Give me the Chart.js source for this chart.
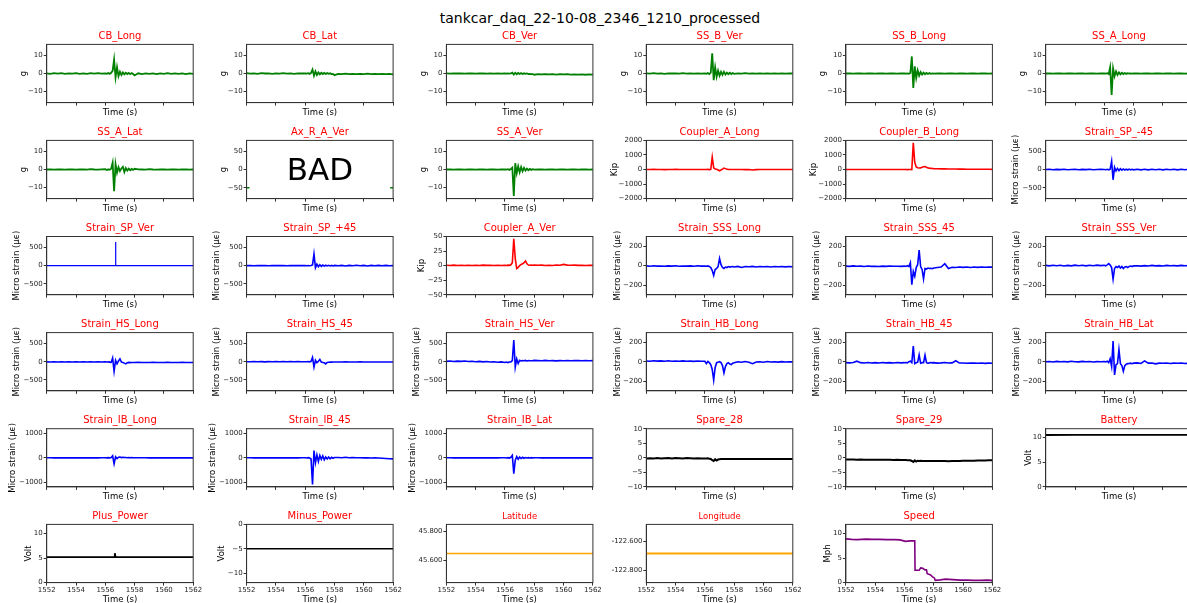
<!DOCTYPE html>
<html>
<head>
<meta charset="utf-8">
<title>tankcar_daq_22-10-08_2346_1210_processed</title>
<script src="https://cdn.jsdelivr.net/npm/chart.js@4.4.1/dist/chart.umd.min.js"></script>
<style>
  html, body { margin: 0; padding: 0; background: #fff; }
  body { position: relative; width: 1187px; height: 603px; overflow: hidden; }
  #suptitle { position: absolute; left: 0; top: 10px; width: 1200px; text-align: center;
              font-family: "DejaVu Sans"; font-size: 14px; line-height: 16px; color: #000; }
  canvas { position: absolute; }
</style>
</head>
<body>
<div id="suptitle">tankcar_daq_22-10-08_2346_1210_processed</div>
<script>
// ---- time bases (s) ----
const T = [1552,1552.25,1552.5,1552.75,1553,1553.25,1553.5,1553.75,1554,1554.25,1554.5,1554.75,1555,1555.25,1555.5,1555.75,
  1556,1556.1,1556.2,1556.3,1556.4,1556.5,1556.6,1556.7,1556.8,1556.9,1557,1557.1,1557.2,1557.3,1557.4,1557.5,1557.6,1557.7,1557.8,1557.9,1558,
  1558.25,1558.5,1558.75,1559,1559.25,1559.5,1559.75,1560,1560.25,1560.5,1560.75,1561,1561.25,1561.5,1561.75,1562];
const T_FLAT = [1552, 1554, 1556, 1558, 1560, 1562];
const T_AX = [1552, 1552.2, 1557, 1561.8, 1562];
const T_SPV = [1552, 1556.68, 1556.7, 1556.72, 1562];
const T_PLUS = [1552, 1556.6, 1556.65, 1556.7, 1562];
const T_SPEED = [1552,1552.4,1552.75,1553.1,1553.4,1553.8,1554.3,1554.8,1555.3,1555.7,1556.05,1556.4,1556.7,1556.72,1557.0,1557.1,1557.25,1557.4,1557.5,1557.55,1557.75,1557.9,1558.05,1558.1,1558.45,1558.8,1559.3,1559.8,1560.3,1560.7,1561.2,1561.6,1561.95,1562];

// ---- accelerometers (g) ----
const CB_LONG = [0.1,-0.2,0.2,-0.1,0.2,-0.2,0.1,-0.1,0.2,-0.2,0.1,-0.2,0.2,-0.1,0.2,-0.1,
  0.1,-0.2,0.3,-0.2,0.4,1.5,7.8,-2.2,3.5,-1.5,1.0,-0.8,0.6,-0.5,0.4,-0.3,0.3,-0.4,0.2,-0.3,-1.1,
  0.1,-0.3,0.1,-0.2,0.1,-0.3,0.1,-0.2,0.2,-0.2,0.1,-0.2,0.1,-0.3,0.1,-0.2];
const CB_LAT = [0.2,-0.1,0.1,-0.2,0.2,0,0.1,-0.2,0.1,-0.1,0.2,-0.1,0.1,-0.2,0.1,0,
  0.1,-0.1,0.2,-0.2,0.3,2.2,-1.2,1.2,-0.8,0.6,-0.5,0.4,-0.3,0.3,-0.3,0.2,-0.2,0.1,-0.3,-0.2,-0.9,
  -0.2,-0.4,-0.1,-0.3,-0.2,-0.4,-0.2,-0.3,-0.1,-0.4,-0.2,-0.3,-0.2,-0.4,-0.2,-0.5];
const CB_VER = [0.1,-0.1,0.1,0,0.1,-0.1,0,0.1,-0.1,0,0.1,-0.1,0,-0.1,0,-0.1,
  0,-0.1,0.1,-0.1,0.1,0.5,-0.6,0.4,-0.4,0.3,-0.3,0.2,-0.3,0.1,-0.2,0,-0.3,-0.2,-0.3,-0.4,-0.7,
  -0.3,-0.5,-0.3,-0.5,-0.4,-0.6,-0.4,-0.5,-0.4,-0.6,-0.5,-0.6,-0.5,-0.7,-0.5,-0.6];
const SS_B_VER = [0.1,-0.1,0.2,-0.1,0.1,-0.2,0.1,0,0.1,-0.1,0.2,-0.1,0.1,-0.1,0.1,-0.1,
  0.1,-0.2,0.2,-0.3,0.5,11.2,-3.7,3.5,-1.8,1.6,-1.2,0.9,-0.8,1.0,-0.6,0.5,-0.4,0.4,-0.3,0.3,-0.2,
  0.1,-0.1,0.2,-0.1,0.1,-0.1,0.1,-0.1,0.1,-0.1,0.1,-0.1,0.1,-0.1,0.1,0];
const SS_B_LONG = [0,0.1,-0.1,0.1,0,-0.1,0.1,0,-0.1,0.1,0,-0.1,0.1,0,-0.1,0.1,
  0,-0.1,0.1,-0.2,0.3,9.5,-8.1,4.0,-2.5,1.8,-1.2,0.8,-0.6,0.5,-0.4,0.3,-0.3,0.2,-0.2,0.1,-0.1,
  0.1,0,-0.1,0.1,0,-0.1,0.1,0,-0.1,0.1,0,-0.1,0.1,0,-0.1,0];
const SS_A_LONG = [0,0.1,-0.1,0,0.1,-0.1,0,0.1,-0.1,0,0.1,-0.1,0,0.1,-0.1,0,
  0.1,-0.1,0.2,-0.3,3.5,-12.0,2.8,-1.5,1.2,-0.8,0.6,-0.5,0.4,-0.3,0.3,-0.2,0.2,-0.1,0.1,-0.1,0,
  0.1,-0.1,0,0.1,-0.1,0,0.1,-0.1,0,0.1,-0.1,0,0.1,-0.1,0,0];
const SS_A_LAT = [0,0.1,-0.1,0.1,0,-0.1,0.1,0,-0.1,0.1,0,-0.1,0.2,0,-0.1,0.1,
  0.2,-0.3,0.1,-0.2,0.4,3.8,-12.1,3.0,-1.8,1.3,-0.9,0.6,1.5,-1.4,0.8,-0.6,0.5,-0.4,0.3,-0.2,0.4,
  0.1,0,-0.1,0.2,0,-0.1,0.1,0,-0.1,0.1,0,-0.1,0.1,0,-0.1,0];
const AX_R_A_VER = [-50, -50, null, -50, -50];
const SS_A_VER = [0,0.1,-0.1,0,0.1,-0.1,0.1,0,-0.1,0.1,0,-0.1,0.1,0,-0.1,0,
  0.1,-0.1,0.2,-0.2,0.3,1.0,-14.7,3.5,-2.0,1.8,-1.5,1.4,-1.0,0.9,-0.6,0.5,-0.4,0.3,-0.2,0.2,-0.1,
  0.1,0,-0.1,0.1,0,-0.1,0.1,0,-0.1,0.1,0,-0.1,0.1,0,-0.1,0];

// ---- couplers (Kip) ----
const COUPLER_A_LONG = [5,-5,8,-3,5,-6,4,-4,6,-5,3,-4,5,-3,4,-5,
  3,-4,5,-6,10,850,120,40,10,-40,-90,-40,30,100,60,20,10,5,0,5,0,
  -5,0,-10,-5,-30,-10,-5,0,-5,0,-5,0,-5,0,-5,0];
const COUPLER_B_LONG = [0,5,-5,3,0,-3,5,0,-5,3,0,-3,5,0,-5,0,
  0,5,-5,5,0,-10,1835,500,180,120,100,110,150,190,200,150,110,90,80,70,60,
  50,45,40,35,30,30,25,25,20,20,20,18,18,15,15,12];
const COUPLER_A_VER = [0.5,0.2,0.8,0.3,0.6,0.1,0.7,0.3,0.5,0.2,0.8,0.4,0.6,0.2,0.7,0.3,
  0.6,0.2,0.8,0.5,1.5,5,46,12,-5,-3,0,2,3,5,8,3,1,0.5,1,0.5,1,
  0.5,0.8,0.3,0.6,0.3,1.0,0.5,2.0,0.8,0.5,0.8,0.4,0.7,0.3,0.6,0.4];

// ---- strain gauges (micro strain) ----
const STRAIN_SP_M45 = [0,5,-5,3,-3,5,-5,0,5,-5,3,-3,5,-5,0,5,
  0,-5,5,-10,10,228,-283,60,-40,30,-30,20,-20,15,-15,10,-15,10,-10,5,-10,
  5,-10,5,-10,5,-5,5,-10,5,-5,5,-10,5,-5,5,-5];
const STRAIN_SP_VER = [0, 0, 650, 0, 0];
const STRAIN_SP_P45 = [0,3,-3,2,-2,3,-3,2,0,-2,3,-3,2,-2,3,0,
  2,-3,3,-5,5,20,320,-60,40,-30,25,-20,15,-15,10,-10,8,-8,5,-10,5,
  -5,5,-10,5,-5,10,-5,5,-10,5,-5,5,-5,5,-5,0];
const STRAIN_SSS_LONG = [-3,-6,-2,-5,-4,-7,-3,-5,-2,-6,-4,-5,-3,-6,-2,-5,
  -4,-6,-3,-8,-20,-50,-101,-40,-30,-10,74,10,-20,-30,-15,-20,-10,-15,-12,-10,-14,
  -8,-20,-10,-12,-8,-14,-10,-12,-10,-14,-10,-12,-9,-13,-10,-12];
const STRAIN_SSS_45 = [-5,-8,-3,-7,-5,-9,-4,-8,-6,-9,-5,-8,-4,-7,-6,-8,
  -5,-9,0,-10,30,-197,-60,-110,-20,10,160,-10,-40,-138,-30,-35,-25,-30,-28,-32,-25,
  -20,-15,20,-30,-18,-20,-15,-18,-14,-19,-15,-18,-14,-17,-15,-16];
const STRAIN_SSS_VER = [2,-3,4,-2,3,-4,2,-3,5,-2,3,-3,4,-2,5,0,
  3,-2,8,20,5,-20,-140,-30,-10,-20,-5,-25,-10,-30,-15,-10,-20,-8,-5,-10,-3,
  -2,-5,0,-4,2,-3,0,-4,2,-2,0,-3,2,-2,0,-2];
const STRAIN_HS_LONG = [-5,-10,-3,-8,-6,-10,-4,-9,-5,-10,-6,-8,-4,-9,-5,-8,
  -6,-10,-5,-12,-20,100,-264,40,-60,20,80,-10,-20,-40,-60,-30,-20,-25,-20,-22,-20,
  -18,-22,-20,-24,-18,-22,-20,-23,-19,-22,-20,-23,-19,-22,-20,-22];
const STRAIN_HS_45 = [0,-3,3,-2,2,-4,3,-2,2,-3,4,-2,3,-3,2,-2,
  0,-3,5,-5,10,120,-145,40,-30,10,60,-10,-20,-30,-60,-20,-15,-10,-12,-8,-10,
  -8,-10,-6,-9,-7,-10,-6,-9,-7,-10,-8,-9,-7,-10,-8,-9];
const STRAIN_HS_VER = [10,20,5,15,8,18,5,12,0,10,-5,5,-10,0,-15,-5,
  -20,-10,-25,-10,-5,30,598,-150,80,-50,40,20,30,25,35,20,30,25,28,30,35,
  30,25,35,28,30,22,30,25,32,28,35,30,25,32,28,30];
const STRAIN_HB_LONG = [8,5,10,6,8,4,9,5,7,4,8,5,6,3,7,4,
  5,-20,2,-10,-30,-80,-190,-60,-10,-5,0,-10,-40,-115,-50,-20,-10,-25,-30,-15,-10,
  0,-5,2,-5,-20,-3,0,-5,2,-3,0,-4,1,-3,0,-2];
const STRAIN_HB_45 = [-10,-12,-8,5,-10,-14,-9,-13,-10,-14,-9,-12,-10,-13,-8,-12,
  -10,-8,-12,0,5,-10,161,-20,-10,-5,70,-15,-10,-10,67,-10,-15,-12,-8,-12,-10,
  -15,-12,-8,-14,-12,10,-14,-13,-16,-14,-15,-16,-14,-17,-15,-16];
const STRAIN_HB_LAT = [0,2,-3,3,-1,2,-2,4,0,-2,3,-1,2,-3,1,0,
  2,-2,5,-10,30,-50,214,-137,-30,-20,126,-20,-40,-98,-40,-25,-20,-18,-15,-20,-15,
  -12,-18,8,-15,-14,-22,-15,-16,-14,-18,-15,-16,-14,-18,-15,-17];
const STRAIN_IB_LONG = [0,5,-5,3,-3,5,-5,2,-2,5,-5,3,-3,5,-5,0,
  3,-3,5,-10,10,80,-250,40,-30,20,30,10,20,10,15,5,10,5,8,5,5,
  5,0,5,-3,3,-5,2,-3,3,-5,2,-3,5,-5,3,-5];
const STRAIN_IB_45 = [0,5,-5,3,-3,5,-5,3,-3,5,-5,3,-3,5,-5,0,
  3,-5,5,-10,-50,-1100,300,-200,120,-150,100,-60,80,-80,30,-50,30,-40,20,-20,10,
  10,0,20,5,10,0,5,-5,0,-10,-5,-10,-20,-30,-40,-45];
const STRAIN_IB_LAT = [0,5,-3,3,-5,5,-3,2,-5,5,-3,3,-5,5,-3,0,
  3,-5,5,-10,20,100,-650,-100,50,-60,30,-30,20,-20,10,-10,5,-10,5,-5,0,
  5,-5,0,-5,3,-5,0,-5,3,-5,0,-5,3,-5,0,-5];

// ---- spares, power, GPS, speed ----
const SPARE_28 = [-0.2,-0.15,-0.2,-0.1,-0.2,-0.15,-0.1,-0.2,-0.1,-0.15,-0.2,-0.1,-0.15,-0.2,-0.15,-0.2,
  -0.2,-0.25,-0.2,-0.3,-0.4,-0.8,-1.1,-0.5,-0.9,-0.6,-0.5,-0.45,-0.4,-0.45,-0.4,-0.4,-0.45,-0.4,-0.4,-0.45,-0.4,
  -0.4,-0.42,-0.4,-0.42,-0.4,-0.42,-0.4,-0.42,-0.4,-0.42,-0.4,-0.4,-0.42,-0.4,-0.42,-0.4];
const SPARE_29 = [-0.6,-0.62,-0.6,-0.65,-0.62,-0.65,-0.63,-0.66,-0.65,-0.68,-0.66,-0.7,-0.68,-0.72,-0.7,-0.74,
  -0.75,-0.78,-0.8,-0.82,-0.85,-1.1,-1.4,-0.9,-1.3,-1.0,-1.1,-1.05,-1.1,-1.08,-1.1,-1.12,-1.1,-1.12,-1.1,-1.12,-1.1,
  -1.12,-1.1,-1.12,-1.15,-1.12,-1.1,-1.08,-1.05,-1.02,-1.0,-0.98,-0.95,-0.92,-0.9,-0.88,-0.85];
const BATTERY = [10.48, 10.5, 10.5, 10.52, 10.5, 10.5];
const PLUS_POWER = [5.2, 5.2, 6.0, 5.2, 5.2];
const MINUS_POWER = [-4.95, -4.95, -4.95, -4.95, -4.95, -4.95];
const LATITUDE = [45.647, 45.647, 45.647, 45.647, 45.647, 45.647];
const LONGITUDE = [-122.684, -122.684, -122.684, -122.684, -122.684, -122.684];
const SPEED = [8.9,8.8,8.75,8.8,8.85,8.8,8.8,8.75,8.75,8.7,8.4,8.5,8.5,2.5,2.5,3.0,2.9,2.6,2.6,1.8,1.6,1.2,0.9,0.45,0.55,0.7,0.6,0.5,0.5,0.45,0.45,0.5,0.45,0.2];

// ---- tick values ----
const X_TICKS = [1552, 1554, 1556, 1558, 1560, 1562];
const G_TICKS = [-10, 0, 10];
const AX_TICKS = [-50, 0, 50];
const KIP_TICKS = [-2000, -1000, 0, 1000, 2000];
const KIP50_TICKS = [-50, -25, 0, 25, 50];
const SP_TICKS = [-500, 0, 500];
const S300_TICKS = [-200, 0, 200];
const S1200_TICKS = [-1000, 0, 1000];
const SPARE_TICKS = [-10, -5, 0, 5, 10];
const VOLT_TICKS = [0, 5, 10];
const MINUS_TICKS = [-10, -5, 0];
const LAT_TICKS = [45.6, 45.8];
const LON_TICKS = [-122.8, -122.6];
const SPEED_TICKS = [0, 5, 10];

// ---- styling ----
const FONT = 'DejaVu Sans';
const GREEN = '#008000', RED = '#ff0000', BLUE = '#0000ff', BLACK = '#000000', ORANGE = '#ffa500', PURPLE = '#800080';
const STRAIN = 'Micro strain (\u03bc\u03f5)';

function fmtInt(v) { return (v < 0 ? '\u2212' : '') + Math.abs(v); }
function fmt3(v) { return Number(v).toFixed(3); }

const PANELS = [
  {name:'CB_Long', x:T, y:CB_LONG, color:GREEN, unit:'g', range:[-16.2,16.2], ticks:G_TICKS, dx:23, lw:1.8},
  {name:'CB_Lat', x:T, y:CB_LAT, color:GREEN, unit:'g', range:[-16.2,16.2], ticks:G_TICKS, dx:23, lw:1.8},
  {name:'CB_Ver', x:T, y:CB_VER, color:GREEN, unit:'g', range:[-16.2,16.2], ticks:G_TICKS, dx:23, lw:1.8},
  {name:'SS_B_Ver', x:T, y:SS_B_VER, color:GREEN, unit:'g', range:[-16.2,16.2], ticks:G_TICKS, dx:23, lw:1.8},
  {name:'SS_B_Long', x:T, y:SS_B_LONG, color:GREEN, unit:'g', range:[-16.2,16.2], ticks:G_TICKS, dx:23, lw:1.8},
  {name:'SS_A_Long', x:T, y:SS_A_LONG, color:GREEN, unit:'g', range:[-16.2,16.2], ticks:G_TICKS, dx:23, lw:1.8},

  {name:'SS_A_Lat', x:T, y:SS_A_LAT, color:GREEN, unit:'g', range:[-16.2,16.2], ticks:G_TICKS, dx:23, lw:1.8},
  {name:'Ax_R_A_Ver', x:T_AX, y:AX_R_A_VER, color:GREEN, unit:'g', range:[-80,80], ticks:AX_TICKS, dx:23, stamp:'BAD'},
  {name:'SS_A_Ver', x:T, y:SS_A_VER, color:GREEN, unit:'g', range:[-16.2,16.2], ticks:G_TICKS, dx:23, lw:1.8},
  {name:'Coupler_A_Long', x:T, y:COUPLER_A_LONG, color:RED, unit:'Kip', range:[-2000,2000], ticks:KIP_TICKS, dx:32},
  {name:'Coupler_B_Long', x:T, y:COUPLER_B_LONG, color:RED, unit:'Kip', range:[-2000,2000], ticks:KIP_TICKS, dx:32},
  {name:'Strain_SP_-45', x:T, y:STRAIN_SP_M45, color:BLUE, unit:STRAIN, range:[-800,800], ticks:SP_TICKS, dx:30},

  {name:'Strain_SP_Ver', x:T_SPV, y:STRAIN_SP_VER, color:BLUE, unit:STRAIN, range:[-800,800], ticks:SP_TICKS, dx:30, lw:1.2},
  {name:'Strain_SP_+45', x:T, y:STRAIN_SP_P45, color:BLUE, unit:STRAIN, range:[-800,800], ticks:SP_TICKS, dx:30},
  {name:'Coupler_A_Ver', x:T, y:COUPLER_A_VER, color:RED, unit:'Kip', range:[-50,50], ticks:KIP50_TICKS, dx:25},
  {name:'Strain_SSS_Long', x:T, y:STRAIN_SSS_LONG, color:BLUE, unit:STRAIN, range:[-300,300], ticks:S300_TICKS, dx:29},
  {name:'Strain_SSS_45', x:T, y:STRAIN_SSS_45, color:BLUE, unit:STRAIN, range:[-300,300], ticks:S300_TICKS, dx:29},
  {name:'Strain_SSS_Ver', x:T, y:STRAIN_SSS_VER, color:BLUE, unit:STRAIN, range:[-300,300], ticks:S300_TICKS, dx:29},

  {name:'Strain_HS_Long', x:T, y:STRAIN_HS_LONG, color:BLUE, unit:STRAIN, range:[-800,800], ticks:SP_TICKS, dx:30},
  {name:'Strain_HS_45', x:T, y:STRAIN_HS_45, color:BLUE, unit:STRAIN, range:[-800,800], ticks:SP_TICKS, dx:30},
  {name:'Strain_HS_Ver', x:T, y:STRAIN_HS_VER, color:BLUE, unit:STRAIN, range:[-800,800], ticks:SP_TICKS, dx:30},
  {name:'Strain_HB_Long', x:T, y:STRAIN_HB_LONG, color:BLUE, unit:STRAIN, range:[-300,300], ticks:S300_TICKS, dx:29},
  {name:'Strain_HB_45', x:T, y:STRAIN_HB_45, color:BLUE, unit:STRAIN, range:[-300,300], ticks:S300_TICKS, dx:29},
  {name:'Strain_HB_Lat', x:T, y:STRAIN_HB_LAT, color:BLUE, unit:STRAIN, range:[-300,300], ticks:S300_TICKS, dx:29},

  {name:'Strain_IB_Long', x:T, y:STRAIN_IB_LONG, color:BLUE, unit:STRAIN, range:[-1200,1200], ticks:S1200_TICKS, dx:34},
  {name:'Strain_IB_45', x:T, y:STRAIN_IB_45, color:BLUE, unit:STRAIN, range:[-1200,1200], ticks:S1200_TICKS, dx:34},
  {name:'Strain_IB_Lat', x:T, y:STRAIN_IB_LAT, color:BLUE, unit:STRAIN, range:[-1200,1200], ticks:S1200_TICKS, dx:34},
  {name:'Spare_28', x:T, y:SPARE_28, color:BLACK, unit:null, range:[-10,10], ticks:SPARE_TICKS, lw:2},
  {name:'Spare_29', x:T, y:SPARE_29, color:BLACK, unit:null, range:[-10,10], ticks:SPARE_TICKS, lw:2},
  {name:'Battery', x:T_FLAT, y:BATTERY, color:BLACK, unit:'Volt', range:[0,11.75], ticks:VOLT_TICKS, dx:17, lw:1.8},

  {name:'Plus_Power', x:T_PLUS, y:PLUS_POWER, color:BLACK, unit:'Volt', range:[0,11.85], ticks:VOLT_TICKS, dx:18, lw:1.8},
  {name:'Minus_Power', x:T_FLAT, y:MINUS_POWER, color:BLACK, unit:'Volt', range:[-11.85,0], ticks:MINUS_TICKS, dx:24.4, lw:1.6},
  {name:'Latitude', x:T_FLAT, y:LATITUDE, color:ORANGE, unit:null, range:[45.447,45.847], ticks:LAT_TICKS, fmt:fmt3, small:true},
  {name:'Longitude', x:T_FLAT, y:LONGITUDE, color:ORANGE, unit:null, range:[-122.884,-122.484], ticks:LON_TICKS, fmt:fmt3, small:true, lw:2},
  {name:'Speed', x:T_SPEED, y:SPEED, color:PURPLE, unit:'Mph', range:[0,11.85], ticks:SPEED_TICKS, dx:18}
];

// plot-area grid (left edges, top edges, size) in page pixels
const GEO = { cols:[46.7, 246.6, 446.4, 646.3, 845.9, 1045.7], rows:[44.4, 140.4, 236.5, 332.6, 428.7, 524.4], w:146.5, h:58.2 };

// full box around the plot area, drawn above the traces
const framePlugin = {
  id: 'frame',
  afterDatasetsDraw(chart) {
    const a = chart.chartArea, ctx = chart.ctx;
    ctx.save();
    ctx.strokeStyle = '#333';
    ctx.lineWidth = 1;
    ctx.strokeRect(a.left, a.top, a.right - a.left, a.bottom - a.top);
    ctx.restore();
  }
};

// large text note placed in the middle of a plot
const stampPlugin = {
  id: 'stamp',
  afterDatasetsDraw(chart, args, opts) {
    if (!opts || !opts.text) return;
    const a = chart.chartArea, ctx = chart.ctx;
    ctx.save();
    ctx.font = '31px "DejaVu Sans"';
    ctx.fillStyle = '#000';
    ctx.textAlign = 'center';
    ctx.textBaseline = 'middle';
    ctx.fillText(opts.text, (a.left + a.right) / 2, (a.top + a.bottom) / 2 + 2.5);
    ctx.restore();
  }
};

function buildPanel(p, idx) {
  const row = Math.floor(idx / 6), col = idx % 6;
  const L = GEO.cols[col], TOP = GEO.rows[row];
  const cl = Math.floor(L) - 52, ct = Math.floor(TOP) - 22;
  const cw = Math.ceil(L + GEO.w + 18) - cl;
  const ch = Math.ceil(TOP + GEO.h + 30) - ct;
  const yW = L - cl;
  const titleH = 17, xH = 24;
  const padTop = TOP - ct - titleH;
  const padBottom = ch - (TOP - ct) - GEO.h - xH;
  const padRight = cw - yW - GEO.w;
  const bottomRow = row === 5;
  const small = !!p.small;

  const canvas = document.createElement('canvas');
  canvas.width = cw; canvas.height = ch;
  canvas.style.left = cl + 'px'; canvas.style.top = ct + 'px';
  canvas.style.width = cw + 'px'; canvas.style.height = ch + 'px';
  document.body.appendChild(canvas);

  const pts = p.x.map((t, i) => ({ x: t, y: p.y[i] }));
  const axisLine = { display: true, drawOnChartArea: false, drawTicks: true, tickLength: 3, color: '#333', lineWidth: 1 };

  new Chart(canvas, {
    type: 'line',
    data: { datasets: [{ data: pts, borderColor: p.color, borderWidth: p.lw || 1.6, pointRadius: 0, tension: 0, spanGaps: false, fill: false }] },
    options: {
      responsive: false, animation: false, events: [],
      layout: { autoPadding: false, padding: { left: 0, right: padRight, top: padTop, bottom: padBottom } },
      plugins: {
        legend: { display: false },
        tooltip: { enabled: false },
        title: {
          display: true, text: p.name, color: RED, fullSize: false,
          font: { family: FONT, size: small ? 8.5 : 10, weight: 'normal', lineHeight: '14px' },
          padding: small ? { top: 2.5, bottom: 0.5 } : { top: 2, bottom: 1 }
        },
        stamp: { text: p.stamp || '' }
      },
      scales: {
        x: {
          type: 'linear', min: 1552, max: 1562,
          afterBuildTicks: s => { s.ticks = X_TICKS.map(v => ({ value: v })); },
          afterFit: s => { s.height = xH; },
          grid: axisLine,
          border: { display: true, color: '#333', width: 1 },
          ticks: { display: bottomRow, autoSkip: false, maxRotation: 0, minRotation: 0, padding: 0,
                   font: { family: FONT, size: 7 }, color: '#222', callback: v => String(v) },
          title: { display: true, text: 'Time (s)', color: '#000', font: { family: FONT, size: 8.5 },
                   padding: { top: 0, bottom: bottomRow ? 1.6 : 8.6 } }
        },
        y: {
          type: 'linear', min: p.range[0], max: p.range[1],
          afterBuildTicks: s => { s.ticks = p.ticks.map(v => ({ value: v })); },
          afterFit: s => { s.width = yW; },
          grid: axisLine,
          border: { display: true, color: '#333', width: 1 },
          ticks: { autoSkip: false, padding: 1, font: { family: FONT, size: small ? 6.8 : 7 }, color: '#222',
                   callback: p.fmt || fmtInt },
          title: { display: !!p.unit, text: p.unit || '', color: '#000', font: { family: FONT, size: 8.5 },
                   padding: { top: Math.max(0, yW - (p.dx || 0) - 5.1), bottom: 0 } }
        }
      }
    },
    plugins: [framePlugin, stampPlugin]
  });
}

PANELS.forEach(buildPanel);
</script>
</body>
</html>
